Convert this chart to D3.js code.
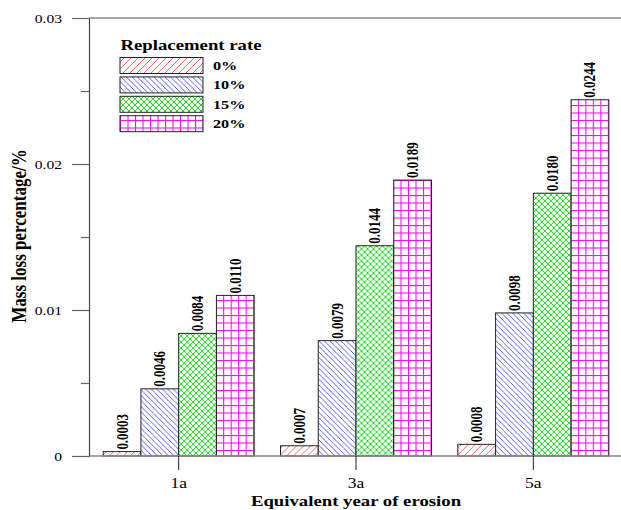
<!DOCTYPE html>
<html><head><meta charset="utf-8">
<script src="https://cdn.jsdelivr.net/npm/d3@7"></script>
<style>
html,body{margin:0;padding:0;background:#fff;}
svg{display:block;}
text{font-family:"Liberation Serif","Times New Roman",serif;}
</style></head>
<body>
<script>
// ---- data ----
const categories = ["1a", "3a", "5a"];
const seriesNames = ["0%", "10%", "15%", "20%"];
const rate0 = [0.0003, 0.0007, 0.0008];
const rate10 = [0.0046, 0.0079, 0.0098];
const rate15 = [0.0084, 0.0144, 0.0180];
const rate20 = [0.0110, 0.0189, 0.0244];
const yTicks = [0, 0.01, 0.02, 0.03];
const yTickLabels = ["0", "0.01", "0.02", "0.03"];
const yMinorTicks = [0.005, 0.015, 0.025];
const legendTitle = "Replacement rate";
const xTitle = "Equivalent year of erosion";
const yTitle = "Mass loss percentage/%";

const seriesValues = [rate0, rate10, rate15, rate20];

// ---- layout ----
const W = 621, H = 510;
const SX = 1.25; // horizontal text stretch seen in the reference
const plotLeft = 89, plotRight = 621, plotTop = 18, plotBottom = 456;

const svg = d3.select("body").append("svg").attr("width", W).attr("height", H);
const defs = svg.append("defs");

function hatch(id, color, size, paths, sw) {
  const p = defs.append("pattern").attr("id", id).attr("patternUnits", "userSpaceOnUse")
    .attr("width", size).attr("height", size);
  p.append("rect").attr("width", size).attr("height", size).attr("fill", "#fff");
  paths.forEach(d => p.append("path").attr("d", d).attr("stroke", color).attr("stroke-width", sw).attr("fill", "none"));
}
// red "/"
hatch("p0", "#ff3b3b", 7, ["M0,7 L7,0", "M-1,1 L1,-1", "M6,8 L8,6"], 0.8);
// blue "\"
hatch("p1", "#3030ff", 5.5, ["M0,0 L5.5,5.5", "M-1,4.5 L1,6.5", "M4.5,-1 L6.5,1"], 0.8);
// green cross-hatch
hatch("p2", "#1ee01e", 6, ["M0,0 L6,6", "M0,6 L6,0"], 1);
// magenta grid
hatch("p3", "#ff00ff", 7.5, ["M0.5,0 L0.5,7.5", "M0,0.5 L7.5,0.5"], 1.1);

const x0 = d3.scaleBand().domain(categories).range([90, 622]).padding(0);
const x1 = d3.scaleBand().domain(seriesNames).range([0, 151]).padding(0);
const y = d3.scaleLinear().domain([0, 0.03]).range([plotBottom, plotTop]);

const axisColor = "#666";

// top frame line
svg.append("line").attr("x1", plotLeft).attr("x2", plotRight).attr("y1", plotTop).attr("y2", plotTop)
  .attr("stroke", "#888").attr("stroke-width", 1.5);

// bars
const groups = svg.append("g").selectAll("g").data(categories).join("g")
  .attr("transform", c => `translate(${x0(c) + x0.bandwidth() / 2 - 75.5},0)`);

groups.each(function (c, ci) {
  const g = d3.select(this);
  seriesNames.forEach((s, si) => {
    const v = seriesValues[si][ci];
    g.append("rect")
      .attr("x", x1(s)).attr("y", y(v))
      .attr("width", x1.bandwidth()).attr("height", plotBottom - y(v))
      .attr("fill", `url(#p${si})`).attr("stroke", "#222").attr("stroke-width", 1);
    const cx = x1(s) + x1.bandwidth() / 2;
    g.append("text")
      .attr("transform", `translate(${cx},${y(v) - 2}) scale(${SX},1) rotate(-90)`)
      .attr("dy", "0.34em")
      .attr("font-size", 13).attr("font-weight", "bold").attr("fill", "#000")
      .text(d3.format(".4f")(v));
  });
});

// x axis baseline
svg.append("line").attr("x1", plotLeft).attr("x2", plotRight).attr("y1", plotBottom).attr("y2", plotBottom)
  .attr("stroke", "#888").attr("stroke-width", 1.6);

// x axis ticks + labels
const xAxis = d3.axisBottom(x0).tickSize(14).tickSizeOuter(0);
const gx = svg.append("g").attr("transform", `translate(0,${plotBottom})`).call(xAxis);
gx.select(".domain").remove();
gx.selectAll(".tick line").attr("stroke", "#222").attr("stroke-width", 1);
gx.selectAll(".tick text")
  .attr("font-size", 14).attr("fill", "#000")
  .attr("y", 32).attr("dy", 0)
  .attr("transform", `scale(${SX},1)`)
  .attr("x", 0);

// y axis
const yAxis = d3.axisLeft(y).tickValues(yTicks).tickFormat((d, i) => yTickLabels[i])
  .tickSize(17).tickSizeOuter(0);
const gy = svg.append("g").attr("transform", `translate(${plotLeft},0)`).call(yAxis);
gy.select(".domain").attr("stroke", "#444").attr("stroke-width", 1.2);
gy.selectAll(".tick line").attr("stroke", axisColor).attr("stroke-width", 1.2);
gy.selectAll(".tick text")
  .attr("font-size", 12.5).attr("fill", "#000")
  .attr("x", -27 / SX).attr("dy", "0.32em")
  .attr("transform", `scale(${SX},1)`);

const yMinor = d3.axisLeft(y).tickValues(yMinorTicks).tickFormat("").tickSize(8).tickSizeOuter(0);
const gym = svg.append("g").attr("transform", `translate(${plotLeft},0)`).call(yMinor);
gym.select(".domain").remove();
gym.selectAll(".tick line").attr("stroke", axisColor).attr("stroke-width", 1.2);

// axis titles
svg.append("text")
  .attr("transform", `translate(${356},${506}) scale(${SX},1)`)
  .attr("text-anchor", "middle").attr("font-size", 15).attr("font-weight", "bold")
  .text(xTitle);

svg.append("text")
  .attr("transform", `translate(${19},${236}) scale(${SX},1) rotate(-90)`)
  .attr("text-anchor", "middle").attr("dy", "0.34em").attr("font-size", 17).attr("font-weight", "bold")
  .text(yTitle);

// legend
const lg = svg.append("g");
lg.append("text")
  .attr("transform", `translate(120.5,50) scale(${SX},1)`)
  .attr("font-size", 15).attr("font-weight", "bold").text(legendTitle);
seriesNames.forEach((s, i) => {
  const yy = 57.5 + i * 19.4;
  lg.append("rect").attr("x", 120).attr("y", yy).attr("width", 83).attr("height", 16)
    .attr("fill", `url(#p${i})`).attr("stroke", "#222").attr("stroke-width", 1);
  lg.append("text")
    .attr("transform", `translate(213,${yy + 8}) scale(${SX},1)`)
    .attr("dy", "0.34em").attr("font-size", 13).attr("font-weight", "bold").text(s);
});
</script>
</body></html>
